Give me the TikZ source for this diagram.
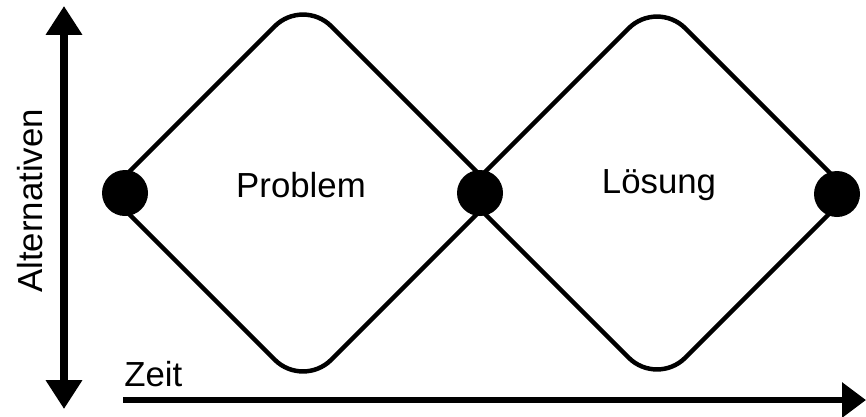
\documentclass[tikz,border=0pt]{standalone}
\usepackage{fontspec}
\setmainfont{Liberation Sans}
\usetikzlibrary{arrows.meta}

\begin{document}
\begin{tikzpicture}[x=0.2mm, y=-0.2mm,
    knot/.style={circle, fill, inner sep=0pt, minimum size=9.2mm},
    lbl/.style={font=\fontsize{19.8}{24}\selectfont, inner sep=0pt},
    rhomb/.style={line width=2.55pt, rounded corners=8mm}]
  \useasboundingbox (0,0) rectangle (866,416);
  % corners of the two diamonds
  \coordinate (pl) at (108,193);
  \coordinate (pt) at (303,-2);
  \coordinate (pr) at (498,193);
  \coordinate (pb) at (303,388);
  \coordinate (ll) at (464,193);
  \coordinate (lt) at (657,0);
  \coordinate (lr) at (850,193);
  \coordinate (lb) at (657,386);
  \draw[rhomb] (pl) -- (pt) -- (pr);
  \draw[rhomb] (pl) -- (pb) -- (pr);
  \draw[rhomb] (ll) -- (lt) -- (lr);
  \draw[rhomb] (ll) -- (lb) -- (lr);
  \node[knot] (k1) at (125,193) {};
  \node[knot] (k2) at (480,193) {};
  \node[knot] (k3) at (837,194) {};
  \node[lbl, anchor=base] (prob) at (301,197) {Problem};
  \node[lbl, anchor=base] (loes) at (659,193) {Lösung};
  % axes
  \coordinate (ytop) at (64,6);
  \coordinate (ybot) at (64,409);
  \coordinate (xstart) at (123,400);
  \coordinate (xend) at (866,400);
  \draw[line width=4pt, {Triangle[length=16.4pt,width=19.8pt]}-{Triangle[length=16.4pt,width=19.8pt]}] (ybot) -- (ytop);
  \draw[line width=3.4pt, -{Triangle[length=13.6pt,width=19.3pt]}] (xstart) -- (xend);
  \node[lbl, anchor=base, rotate=90] (alt) at (42,201) {Alternativen};
  \node[lbl, anchor=base west] (zeit) at (124,386) {Zeit};
\end{tikzpicture}
\end{document}
